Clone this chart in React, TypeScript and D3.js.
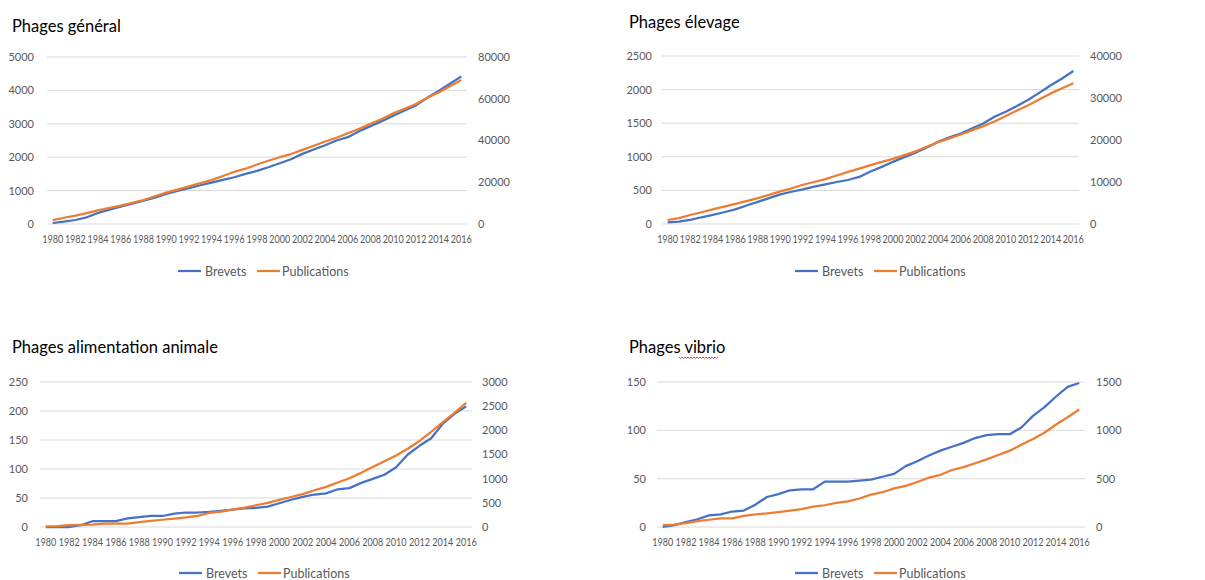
import React from "react";
import * as d3 from "d3";

const years = d3.range(1980, 2017);
const yearTicks = years.filter((y) => y % 2 === 0);

// Phages général
const generalBrevets = [30, 70, 120, 200, 330, 430, 520, 610, 700, 790, 900, 990, 1070, 1160, 1240, 1320, 1400, 1500, 1590, 1700, 1820, 1940, 2100, 2230, 2360, 2500, 2600, 2780, 2930, 3080, 3240, 3400, 3550, 3780, 3980, 4200, 4420];
const generalPublications = [1900, 3000, 4000, 5200, 6500, 7700, 8800, 10100, 11500, 13300, 15000, 16500, 18000, 19600, 21000, 23000, 25000, 26500, 28500, 30300, 32000, 33500, 35500, 37500, 39500, 41300, 43500, 45600, 48000, 50300, 53000, 55200, 57500, 60500, 63000, 66000, 69000];

// Phages élevage
const elevageBrevets = [25, 35, 60, 100, 135, 175, 218, 275, 330, 385, 440, 480, 515, 555, 590, 625, 655, 700, 780, 850, 925, 995, 1060, 1140, 1225, 1290, 1345, 1420, 1495, 1595, 1670, 1755, 1850, 1955, 2065, 2165, 2277];
const elevagePublications = [950, 1400, 2150, 2800, 3500, 4150, 4800, 5450, 6150, 6950, 7750, 8500, 9350, 10000, 10700, 11550, 12400, 13200, 14000, 14800, 15500, 16400, 17300, 18400, 19500, 20400, 21300, 22300, 23300, 24400, 25700, 27000, 28300, 29700, 31100, 32300, 33500];

// Phages alimentation animale
const alimBrevets = [0, 0, 0, 3, 10, 10, 10, 15, 17, 19, 19, 23, 25, 25, 26, 28, 30, 32, 33, 35, 41, 47, 52, 56, 58, 65, 67, 76, 83, 90, 103, 125, 140, 153, 178, 195, 208];
const alimPublications = [15, 20, 40, 45, 50, 70, 70, 70, 100, 125, 150, 175, 200, 230, 290, 320, 360, 400, 450, 500, 560, 620, 680, 760, 830, 920, 1010, 1120, 1240, 1360, 1480, 1620, 1780, 1970, 2170, 2360, 2570];

// Phages vibrio
const vibrioBrevets = [0, 2, 5, 8, 12, 13, 16, 17, 23, 31, 34, 38, 39, 39, 47, 47, 47, 48, 49, 52, 55, 63, 68, 74, 79, 83, 87, 92, 95, 96, 96, 103, 115, 124, 135, 145, 149];
const vibrioPublications = [20, 25, 40, 60, 75, 90, 90, 115, 130, 140, 155, 170, 185, 210, 225, 250, 265, 295, 335, 360, 400, 425, 465, 510, 540, 590, 620, 660, 700, 745, 790, 850, 910, 975, 1060, 1135, 1215];

const leftTicksGeneral = [0, 1000, 2000, 3000, 4000, 5000];
const rightTicksGeneral = [0, 20000, 40000, 60000, 80000];
const leftTicksElevage = [0, 500, 1000, 1500, 2000, 2500];
const rightTicksElevage = [0, 10000, 20000, 30000, 40000];
const leftTicksAlim = [0, 50, 100, 150, 200, 250];
const rightTicksAlim = [0, 500, 1000, 1500, 2000, 2500, 3000];
const leftTicksVibrio = [0, 50, 100, 150];
const rightTicksVibrio = [0, 500, 1000, 1500];

const BLUE = "#4472C4";
const ORANGE = "#ED7D31";
const GRID = "#D9D9D9";
const LABEL = "#595959";
const FONT = "Lato, 'Open Sans', sans-serif";

type PanelProps = {
  title: string;
  titleX: number;
  titleY: number;
  x0: number;
  x1: number;
  yTop: number;
  yBottom: number;
  leftLabelX: number;
  rightLabelX: number;
  xLabelY: number;
  legendY: number;
  legendX: number;
  brevets: number[];
  publications: number[];
  leftTicks: number[];
  rightTicks: number[];
  squiggle?: [number, number];
};

function Panel(p: PanelProps) {
  const x = d3.scalePoint<number>().domain(years).range([p.x0, p.x1]).padding(0.5);
  const yL = d3.scaleLinear().domain([0, d3.max(p.leftTicks)!]).range([p.yBottom, p.yTop]);
  const yR = d3.scaleLinear().domain([0, d3.max(p.rightTicks)!]).range([p.yBottom, p.yTop]);
  const lineL = d3.line<number>().x((_, i) => x(years[i])!).y((d) => yL(d));
  const lineR = d3.line<number>().x((_, i) => x(years[i])!).y((d) => yR(d));

  let squigglePath = "";
  if (p.squiggle) {
    const [sx0, sx1] = p.squiggle;
    const pts: [number, number][] = [];
    for (let xx = sx0, k = 0; xx <= sx1; xx += 1.5, k++) pts.push([xx, p.titleY + 4 + (k % 2 === 0 ? 0 : 1.5)]);
    squigglePath = d3.line()(pts) || "";
  }

  return (
    <g>
      <text x={p.titleX} y={p.titleY} fontSize={16.5} fill="#000" fontFamily={FONT}>
        {p.title}
      </text>
      {p.squiggle && <path d={squigglePath} fill="none" stroke="#E0332A" strokeWidth={0.9} />}
      {p.leftTicks.map((t) => (
        <line key={"g" + t} x1={p.x0} x2={p.x1} y1={yL(t)} y2={yL(t)} stroke={GRID} strokeWidth={1} />
      ))}
      {p.leftTicks.map((t) => (
        <text key={"l" + t} x={p.leftLabelX} y={yL(t)} dy="0.36em" textAnchor="end" fontSize={11} fill={LABEL} fontFamily={FONT}>
          {t}
        </text>
      ))}
      {p.rightTicks.map((t) => (
        <text key={"r" + t} x={p.rightLabelX} y={yR(t)} dy="0.36em" textAnchor="start" fontSize={11} fill={LABEL} fontFamily={FONT}>
          {t}
        </text>
      ))}
      {yearTicks.map((yr) => (
        <text key={"x" + yr} x={x(yr)} y={p.xLabelY} dy="0.36em" textAnchor="middle" fontSize={10.5} textLength={21} lengthAdjust="spacingAndGlyphs" fill={LABEL} fontFamily={FONT}>
          {yr}
        </text>
      ))}
      <path d={lineL(p.brevets) || ""} fill="none" stroke={BLUE} strokeWidth={2.25} strokeLinejoin="round" />
      <path d={lineR(p.publications) || ""} fill="none" stroke={ORANGE} strokeWidth={2.25} strokeLinejoin="round" />
      <g transform={`translate(${p.legendX},${p.legendY})`}>
        <line x1={0} x2={23} y1={0} y2={0} stroke={BLUE} strokeWidth={2.25} />
        <text x={27} y={0} dy="0.36em" fontSize={12.5} fill={LABEL} fontFamily={FONT}>Brevets</text>
        <line x1={79} x2={102} y1={0} y2={0} stroke={ORANGE} strokeWidth={2.25} />
        <text x={104} y={0} dy="0.36em" fontSize={12.5} fill={LABEL} fontFamily={FONT}>Publications</text>
      </g>
    </g>
  );
}

export default function App() {
  return (
    <svg width={1205} height={580} style={{ position: "absolute", left: 0, top: 0, background: "#fff" }}>
      <rect width={1205} height={580} fill="#fff" />
      <Panel
        title="Phages général" titleX={12} titleY={31.5}
        x0={47} x1={467} yTop={57} yBottom={224}
        leftLabelX={34} rightLabelX={478} xLabelY={239}
        legendX={178} legendY={271}
        brevets={generalBrevets} publications={generalPublications}
        leftTicks={leftTicksGeneral} rightTicks={rightTicksGeneral}
      />
      <Panel
        title="Phages élevage" titleX={629} titleY={27.7}
        x0={662} x1={1079} yTop={56} yBottom={224}
        leftLabelX={652} rightLabelX={1090} xLabelY={239}
        legendX={795} legendY={271}
        brevets={elevageBrevets} publications={elevagePublications}
        leftTicks={leftTicksElevage} rightTicks={rightTicksElevage}
      />
      <Panel
        title="Phages alimentation animale" titleX={12} titleY={353}
        x0={40} x1={472} yTop={382} yBottom={527}
        leftLabelX={28} rightLabelX={482} xLabelY={542}
        legendX={179} legendY={573}
        brevets={alimBrevets} publications={alimPublications}
        leftTicks={leftTicksAlim} rightTicks={rightTicksAlim}
      />
      <Panel
        title="Phages vibrio" titleX={629} titleY={353}
        x0={657} x1={1085} yTop={382} yBottom={527}
        leftLabelX={646} rightLabelX={1096} xLabelY={542}
        legendX={795} legendY={573}
        brevets={vibrioBrevets} publications={vibrioPublications}
        leftTicks={leftTicksVibrio} rightTicks={rightTicksVibrio}
        squiggle={[679, 718]}
      />
    </svg>
  );
}
